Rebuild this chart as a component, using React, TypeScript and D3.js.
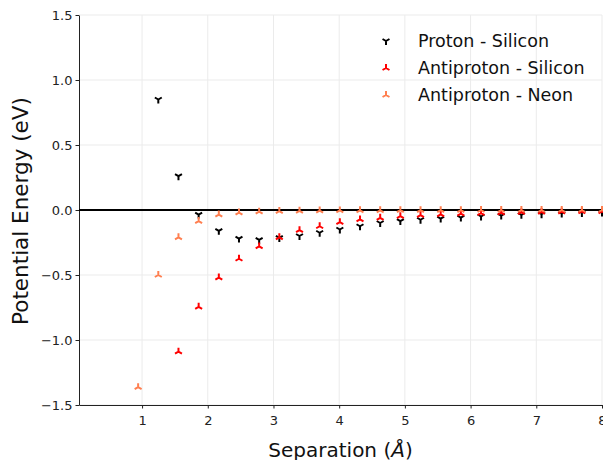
import React, { useRef, useEffect } from 'react';
import { select, scaleLinear, axisBottom, axisLeft } from 'd3';

// separation in angstrom
const separation = [
  0.94, 1.247, 1.554, 1.861, 2.168, 2.475, 2.782, 3.089, 3.396, 3.703, 4.01, 4.317,
  4.624, 4.931, 5.238, 5.545, 5.852, 6.159, 6.466, 6.773, 7.08, 7.387, 7.694, 8.0,
];
// null = off the top of the chart
const protonSilicon = [
  null, 0.85, 0.26, -0.035, -0.16, -0.22, -0.23, -0.215, -0.2, -0.175, -0.15, -0.125,
  -0.1, -0.085, -0.075, -0.066, -0.058, -0.05, -0.043, -0.037, -0.032, -0.027, -0.023, -0.02,
];
const antiprotonSilicon = [
  null, null, -1.09, -0.745, -0.52, -0.375, -0.28, -0.21, -0.155, -0.125, -0.094, -0.073,
  -0.06, -0.048, -0.04, -0.034, -0.028, -0.024, -0.02, -0.017, -0.015, -0.013, -0.011, -0.01,
];
const antiprotonNeon = [
  -1.363, -0.5, -0.21, -0.085, -0.035, -0.02, -0.013, -0.008, -0.006, -0.004, -0.003, -0.002,
  -0.002, -0.001, -0.001, -0.001, -0.001, 0, 0, 0, 0, 0, 0, 0,
];
const xTicks = [1, 2, 3, 4, 5, 6, 7, 8];
const yTicks = [-1.5, -1.0, -0.5, 0.0, 0.5, 1.0, 1.5];

const series = [
  { label: 'Proton - Silicon', values: protonSilicon, color: '#000000', down: true },
  { label: 'Antiproton - Silicon', values: antiprotonSilicon, color: '#ff0000', down: false },
  { label: 'Antiproton - Neon', values: antiprotonNeon, color: '#ff7f50', down: false },
];

const width = 603;
const height = 460;
const margin = { top: 15, right: 1, bottom: 55, left: 79 };

// matplotlib tri_down / tri_up markers
const tri = (r: number, down: boolean) => {
  const s = down ? 1 : -1;
  const a = r * 0.866;
  return `M0,0L0,${s * r}M0,0L${-a},${-s * r * 0.5}M0,0L${a},${-s * r * 0.5}`;
};

export default function App() {
  const svgRef = useRef<SVGSVGElement>(null);

  useEffect(() => {
    const svg = select(svgRef.current);
    svg.selectAll('*').remove();
    const font = 'DejaVu Sans, sans-serif';

    const x = scaleLinear()
      .domain([0.04, 8])
      .range([margin.left, width - margin.right]);
    const y = scaleLinear()
      .domain([-1.5, 1.5])
      .range([height - margin.bottom, margin.top]);

    // grid
    const grid = svg.append('g').attr('stroke', '#ebebeb').attr('stroke-width', 1);
    grid
      .selectAll('line.v')
      .data(xTicks)
      .enter()
      .append('line')
      .attr('x1', (d) => x(d))
      .attr('x2', (d) => x(d))
      .attr('y1', y(-1.5))
      .attr('y2', y(1.5));
    grid
      .selectAll('line.h')
      .data(yTicks)
      .enter()
      .append('line')
      .attr('x1', x(0.04))
      .attr('x2', x(8))
      .attr('y1', (d) => y(d))
      .attr('y2', (d) => y(d));

    // axes
    const xAxis = axisBottom(x)
      .tickValues(xTicks)
      .tickFormat((d) => String(d))
      .tickSize(3.5)
      .tickSizeOuter(0);
    const gx = svg
      .append('g')
      .attr('transform', `translate(0,${y(-1.5)})`)
      .call(xAxis);
    const yAxis = axisLeft(y)
      .tickValues(yTicks)
      .tickFormat((d) => (+d).toFixed(1).replace('-', '\u2212'))
      .tickSize(3.5)
      .tickSizeOuter(0);
    const gy = svg
      .append('g')
      .attr('transform', `translate(${x(0.04)},0)`)
      .call(yAxis);
    [gx, gy].forEach((g) => {
      g.select('.domain').attr('stroke', '#222').attr('stroke-width', 1);
      g.selectAll('.tick line').attr('stroke', '#222');
      g.selectAll('.tick text')
        .attr('fill', '#222')
        .style('font-family', font)
        .style('font-size', '13px');
    });
    gx.selectAll('.tick text').attr('dy', '1.05em');

    // zero line
    svg
      .append('line')
      .attr('x1', x(0.04))
      .attr('x2', x(8))
      .attr('y1', y(0))
      .attr('y2', y(0))
      .attr('stroke', '#000')
      .attr('stroke-width', 2);

    // markers
    series.forEach((s) => {
      const pts = separation
        .map((sx, i) => [sx, s.values[i]])
        .filter((p) => p[1] !== null) as number[][];
      svg
        .append('g')
        .selectAll('path')
        .data(pts)
        .enter()
        .append('path')
        .attr('transform', (d) => `translate(${x(d[0])},${y(d[1])})`)
        .attr('d', tri(4, s.down))
        .attr('fill', 'none')
        .attr('stroke', s.color)
        .attr('stroke-width', 2);
    });

    // axis labels
    svg
      .append('text')
      .attr('x', (x(0.04) + x(8)) / 2)
      .attr('y', 457)
      .attr('text-anchor', 'middle')
      .style('font-family', font)
      .style('font-size', '20px')
      .attr('fill', '#111')
      .call((t) => {
        t.append('tspan').text('Separation (');
        t.append('tspan').attr('font-style', 'italic').text('\u00c5');
        t.append('tspan').text(')');
      });
    svg
      .append('text')
      .attr('transform', `translate(28,${(y(-1.5) + y(1.5)) / 2 + 1}) rotate(-90)`)
      .attr('text-anchor', 'middle')
      .style('font-family', font)
      .style('font-size', '21.5px')
      .attr('fill', '#111')
      .text('Potential Energy (eV)');

    // legend
    const leg = svg.append('g');
    series.forEach((s, i) => {
      const ly = 41 + i * 27;
      leg
        .append('path')
        .attr('transform', `translate(386,${ly})`)
        .attr('d', tri(4, s.down))
        .attr('fill', 'none')
        .attr('stroke', s.color)
        .attr('stroke-width', 2);
      leg
        .append('text')
        .attr('x', 418)
        .attr('y', ly)
        .attr('dy', '0.35em')
        .style('font-family', font)
        .style('font-size', '17.5px')
        .attr('fill', '#111')
        .text(s.label);
    });
  }, []);

  return (
    <svg
      ref={svgRef}
      width={width}
      height={height}
      style={{ position: 'absolute', left: 0, top: 0, background: '#fff' }}
    ></svg>
  );
}
